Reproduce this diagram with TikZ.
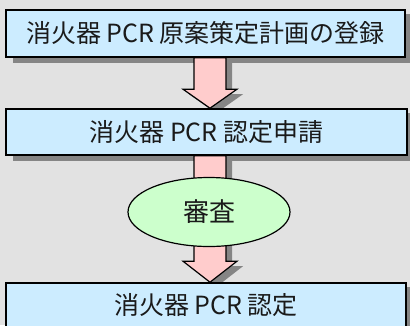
\documentclass[tikz,border=0pt]{standalone}
\usepackage{fontspec}
\newfontfamily\jp{Noto Sans CJK JP}
\usetikzlibrary{calc,shapes.geometric}
\definecolor{bgc}{HTML}{E2E2E2}
\definecolor{boxc}{HTML}{CCECFF}
\definecolor{arrc}{HTML}{FFCCCC}
\definecolor{ellc}{HTML}{CCFFCC}
\definecolor{shc}{HTML}{858585}
\definecolor{txc}{HTML}{1A1A1A}
\pgfdeclarelayer{bgl}\pgfdeclarelayer{shadowl}\pgfdeclarelayer{arrowl}
\pgfsetlayers{bgl,shadowl,arrowl,main}
% style, start, end, dx, dy (downwards), head length
\newcommand{\blkarrow}[6]{%
  \path[#1] let \p1=(#2), \p2=(#3) in
  (\x1-16pt+#4,\y1-#5) -- (\x1+16pt+#4,\y1-#5) -- (\x1+16pt+#4,\y2+#6-#5)
  -- (\x1+27pt+#4,\y2+#6-#5) -- (\x1+#4,\y2-#5) -- (\x1-27pt+#4,\y2+#6-#5)
  -- (\x1-16pt+#4,\y2+#6-#5) -- cycle;}
\tikzset{
  box/.style={draw=black, line width=1.6pt, fill=boxc, inner sep=0pt,
    font=\jp\fontsize{25pt}{30pt}\selectfont, text=txc},
  ell/.style={ellipse, draw=black, line width=1.2pt, fill=ellc, inner sep=0pt,
    minimum width=162pt, minimum height=69pt,
    font=\jp\fontsize{26pt}{30pt}\selectfont, text=txc},
  arrowbody/.style={draw=black, line width=1.2pt, fill=arrc, line join=miter},
  arrowshadow/.style={fill=shc},
  boxshadow/.style={fill=shc}
}
\begin{document}
\begin{tikzpicture}[x=1pt,y=-1pt]
\useasboundingbox (0,0) rectangle (410,325);
\begin{pgfonlayer}{bgl}
  \fill[bgc] (0,0) rectangle (410,325);
\end{pgfonlayer}

\node[box, minimum width=399pt, minimum height=47pt] (b1) at (205.5,33.5) {消火器 PCR 原案策定計画の登録};
\node[box, minimum width=401pt, minimum height=46pt] (b2) at (206.5,132) {消火器 PCR 認定申請};
\node[box, minimum width=400pt, minimum height=45pt] (b3) at (206,305.5) {消火器 PCR 認定};
\node[ell] (e) at (209,212) {審査};

\coordinate (ax) at (210,0);
\coordinate (a1s) at (b1.south -| ax);
\coordinate (a1e) at (b2.north -| ax);
\coordinate (a2s) at (b2.south -| ax);
\coordinate (a2e) at (b3.north -| ax);

\begin{pgfonlayer}{shadowl}
  \foreach \b in {b1,b2,b3}{
    \fill[boxshadow] ([shift={(8pt,-5pt)}]\b.south west) rectangle ([shift={(8pt,-5pt)}]\b.north east);
  }
  \blkarrow{arrowshadow}{a1s}{a1e}{6pt}{5pt}{19pt}
  \blkarrow{arrowshadow}{a2s}{a2e}{6pt}{5pt}{21pt}
\end{pgfonlayer}
\begin{pgfonlayer}{arrowl}
  \blkarrow{arrowbody}{a1s}{a1e}{0pt}{0pt}{19pt}
  \blkarrow{arrowbody}{a2s}{a2e}{0pt}{0pt}{21pt}
\end{pgfonlayer}
\end{tikzpicture}
\end{document}
